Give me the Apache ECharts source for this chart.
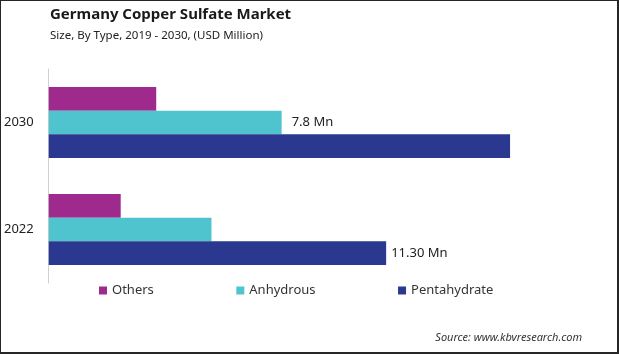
<!DOCTYPE html>
<html>
<head>
<meta charset="utf-8">
<script src="https://cdn.jsdelivr.net/npm/echarts@6/dist/echarts.min.js"></script>
<style>
  html, body { margin: 0; padding: 0; background: #fff; }
  #main { width: 619px; height: 354px; box-sizing: border-box; border: 2px solid #262626; border-left-width: 1px; border-top-width: 1px; }
</style>
</head>
<body>
<div id="main"></div>
<script>
// values (USD Million)
const years = ['2022', '2030'];
const others = [2.41, 3.6];
const anhydrous = [5.45, 7.8];
const pentahydrate = [11.30, 15.45];
const seriesNames = ['Others', 'Anhydrous', 'Pentahydrate'];

const chart = echarts.init(document.getElementById('main'));

const font = '"Noto Sans", sans-serif';

function bar(name, values, color, labelIdx, distance) {
    return {
        name: name,
        type: 'bar',
        barWidth: 23.6,
        barGap: '0%',
        itemStyle: { color: color },
        data: values.map((v, i) => {
            const d = { value: v };
            if (i === labelIdx) {
                d.label = {
                    show: true,
                    position: 'right',
                    distance: distance,
                    formatter: v.toFixed(name === 'Pentahydrate' ? 2 : 1) + ' Mn',
                    color: '#222',
                    fontSize: 13,
                    fontFamily: font
                };
            }
            return d;
        })
    };
}

const option = {
    animation: false,
    title: [{
        text: 'Germany Copper Sulfate Market',
        left: 44,
        top: 1,
        textStyle: { fontSize: 15, fontWeight: 'bold', color: '#1a1a1a', fontFamily: font }
    }, {
        text: 'Size, By Type, 2019 - 2030, (USD Million)',
        left: 44,
        top: 24,
        textStyle: { fontSize: 11.5, fontWeight: 'normal', color: '#222', fontFamily: font }
    }, {
        text: 'Source: www.kbvresearch.com',
        right: 30,
        top: 326,
        textStyle: { fontSize: 11, fontStyle: 'italic', fontWeight: 'normal', color: '#333', fontFamily: font }
    }],
    legend: {
        data: seriesNames,
        left: 93,
        top: 278,
        itemWidth: 8,
        itemHeight: 8,
        itemGap: 82.5,
        icon: 'rect',
        textStyle: { fontSize: 13, color: '#333', fontFamily: font }
    },
    grid: {
        left: 47,
        top: 68,
        width: 538.2,
        height: 214
    },
    xAxis: {
        type: 'value',
        min: 0,
        max: 18,
        show: false
    },
    yAxis: {
        type: 'category',
        data: years,
        axisLine: { lineStyle: { color: '#d0d0d0', width: 1 } },
        axisTick: { show: false },
        axisLabel: { fontSize: 13, color: '#222', margin: 15, fontFamily: font }
    },
    series: [
        bar('Others', others, '#9e2a8e', -1, 5),
        bar('Anhydrous', anhydrous, '#4fc4cf', 1, 10),
        bar('Pentahydrate', pentahydrate, '#2a388f', 0, 5)
    ]
};

chart.setOption(option);
</script>
</body>
</html>
